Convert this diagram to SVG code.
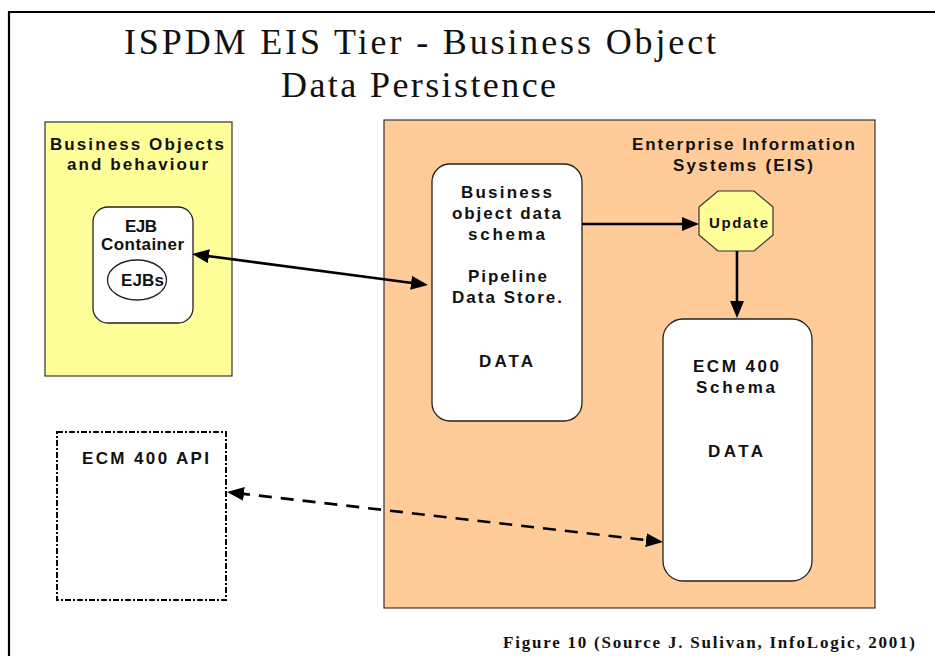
<svg xmlns="http://www.w3.org/2000/svg" width="935" height="656" viewBox="0 0 935 656">
  <style>
    .lbl { font-family: "Liberation Sans", Arial, sans-serif; font-weight: bold; font-size: 17px; fill: #111; }
    .title { font-family: "Liberation Serif", "Times New Roman", serif; font-size: 36px; fill: #111; }
    .cap { font-family: "Liberation Serif", "Times New Roman", serif; font-weight: bold; font-size: 17px; fill: #111; }
    .box { fill: #fff; stroke: #222; stroke-width: 1.3; }
    .conn { fill: none; stroke: #000; stroke-width: 2.6; }
  </style>
  <defs>
    <marker id="ah" viewBox="0 0 17 14" refX="7" refY="7" markerWidth="17" markerHeight="14" markerUnits="userSpaceOnUse" orient="auto-start-reverse">
      <path d="M0,0 L17,7 L0,14 z" fill="#000" stroke="none"/>
    </marker>
  </defs>
  <rect width="935" height="656" fill="#fff"/>
  <!-- outer frame -->
  <path d="M9,656 V12 H935" fill="none" stroke="#000" stroke-width="2.2"/>

  <g id="title">
    <text class="title" x="124" y="54" textLength="592" lengthAdjust="spacing">ISPDM EIS Tier - Business Object</text>
    <text class="title" x="281" y="97" textLength="275" lengthAdjust="spacing">Data Persistence</text>
  </g>

  <g id="business-objects">
    <rect x="45" y="122" width="187" height="254" fill="#FFFF99" stroke="#333" stroke-width="1.2"/>
    <text class="lbl" x="50" y="150" textLength="174" lengthAdjust="spacing">Business Objects</text>
    <text class="lbl" x="67" y="170" textLength="141" lengthAdjust="spacing">and behaviour</text>
  </g>

  <g id="ejb-container">
    <rect class="box" x="93" y="207" width="100" height="116" rx="15"/>
    <text class="lbl" x="125" y="232" textLength="32" lengthAdjust="spacing">EJB</text>
    <text class="lbl" x="101" y="250" textLength="83" lengthAdjust="spacing">Container</text>
  </g>

  <g id="ejbs">
    <ellipse cx="137" cy="280" rx="29.5" ry="20" class="box"/>
    <text class="lbl" x="121" y="286" textLength="43" lengthAdjust="spacing">EJBs</text>
  </g>

  <g id="eis">
    <rect x="384" y="120" width="491" height="488" fill="#FFCC99" stroke="#333" stroke-width="1.2"/>
    <text class="lbl" x="632" y="150" textLength="223" lengthAdjust="spacing">Enterprise Information</text>
    <text class="lbl" x="673" y="171" textLength="140" lengthAdjust="spacing">Systems (EIS)</text>
  </g>

  <g id="business-object-schema">
    <rect class="box" x="432" y="164" width="150" height="257" rx="18"/>
    <text class="lbl" x="461" y="198" textLength="91" lengthAdjust="spacing">Business</text>
    <text class="lbl" x="452" y="219" textLength="109" lengthAdjust="spacing">object data</text>
    <text class="lbl" x="468" y="240" textLength="77" lengthAdjust="spacing">schema</text>
    <text class="lbl" x="468" y="282" textLength="79" lengthAdjust="spacing">Pipeline</text>
    <text class="lbl" x="452" y="303" textLength="110" lengthAdjust="spacing">Data Store.</text>
    <text class="lbl" x="479" y="367" textLength="54" lengthAdjust="spacing">DATA</text>
  </g>

  <g id="update">
    <polygon points="718,191 754,191 773,207 773,235 754,251 718,251 699,235 699,207" fill="#FFFF99" stroke="#333" stroke-width="1.2"/>
    <text class="lbl" x="709" y="228" textLength="59" lengthAdjust="spacing" style="font-size:15px">Update</text>
  </g>

  <g id="ecm-schema">
    <rect class="box" x="663" y="319" width="149" height="262" rx="20"/>
    <text class="lbl" x="693" y="372" textLength="86" lengthAdjust="spacing">ECM 400</text>
    <text class="lbl" x="696" y="393" textLength="79" lengthAdjust="spacing">Schema</text>
    <text class="lbl" x="708" y="457" textLength="55" lengthAdjust="spacing">DATA</text>
  </g>

  <g id="ecm-api">
    <rect x="57" y="432" width="169" height="168" fill="#fff" stroke="#000" stroke-width="2" stroke-dasharray="6,2,2,2"/>
    <text class="lbl" x="82" y="464" textLength="127" lengthAdjust="spacing">ECM 400 API</text>
  </g>

  <g id="connectors">
    <line class="conn" x1="202" y1="255.3" x2="418" y2="283.7" marker-start="url(#ah)" marker-end="url(#ah)"/>
    <line class="conn" x1="582" y1="224" x2="689" y2="224" marker-end="url(#ah)"/>
    <line class="conn" x1="737" y1="251" x2="737" y2="308" marker-end="url(#ah)"/>
    <line class="conn" x1="237" y1="493.1" x2="653" y2="540.9" stroke-dasharray="13,9" marker-start="url(#ah)" marker-end="url(#ah)"/>
  </g>

  <g id="caption">
    <text class="cap" x="503" y="648" textLength="412" lengthAdjust="spacing">Figure 10 (Source J. Sulivan, InfoLogic, 2001)</text>
  </g>
</svg>
